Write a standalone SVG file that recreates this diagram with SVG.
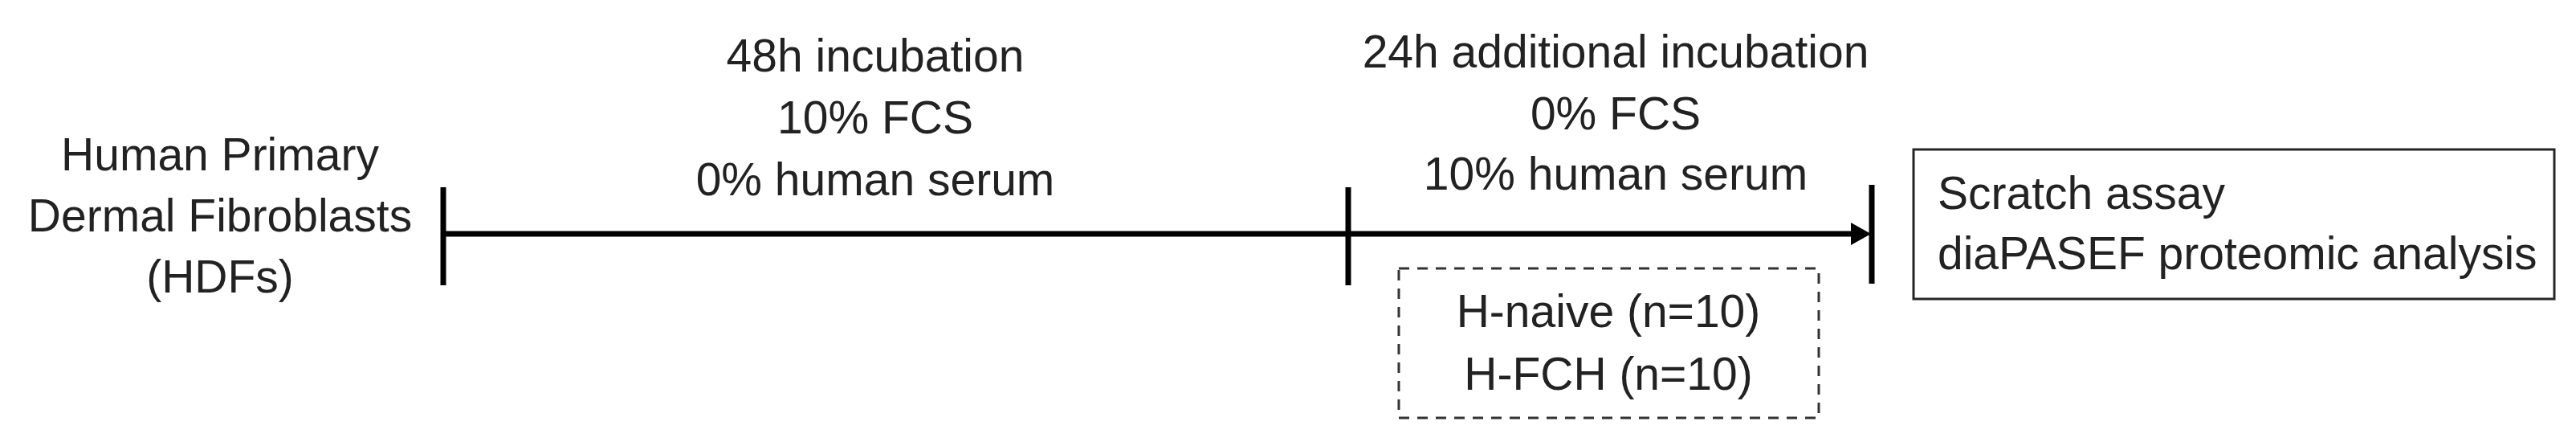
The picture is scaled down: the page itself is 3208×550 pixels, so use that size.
<svg xmlns="http://www.w3.org/2000/svg" width="3208" height="550" viewBox="0 0 3208 550">
<style>
  text { font-family: "Liberation Sans", Arial, sans-serif; font-size: 57px; fill: #222222; }
  .c { text-anchor: middle; }
  .ln { stroke: #000000; stroke-width: 7; fill: none; }
  .box { fill: #ffffff; stroke: #262626; stroke-width: 3; }
  .dash { fill: none; stroke: #333333; stroke-width: 3; stroke-dasharray: 13 10; }
</style>
<rect x="0" y="0" width="3208" height="550" fill="#ffffff"/>

<g id="connectors">
  <line class="ln" x1="552" y1="291" x2="2310" y2="291"/>
  <polygon points="2305,277 2330,291 2305,305" fill="#000000"/>
  <line class="ln" x1="552" y1="233" x2="552" y2="355"/>
  <line class="ln" x1="1679" y1="233" x2="1679" y2="355"/>
  <line class="ln" x1="2331" y1="230" x2="2331" y2="353"/>
</g>

<g id="node-hdfs">
  <text class="c" x="274" y="212">Human Primary</text>
  <text class="c" x="274" y="288">Dermal Fibroblasts</text>
  <text class="c" x="274" y="364">(HDFs)</text>
</g>

<g id="label-48h">
  <text class="c" x="1090" y="89">48h incubation</text>
  <text class="c" x="1090" y="166">10% FCS</text>
  <text class="c" x="1090" y="243">0% human serum</text>
</g>

<g id="label-24h">
  <text class="c" x="2012" y="84">24h additional incubation</text>
  <text class="c" x="2012" y="161">0% FCS</text>
  <text class="c" x="2012" y="236">10% human serum</text>
</g>

<g id="node-groups">
  <rect class="dash" x="1742" y="334" width="523" height="186"/>
  <text class="c" x="2003" y="407">H-naive (n=10)</text>
  <text class="c" x="2003" y="485">H-FCH (n=10)</text>
</g>

<g id="node-assays">
  <rect class="box" x="2383" y="186" width="798" height="186"/>
  <text x="2413" y="260">Scratch assay</text>
  <text x="2413" y="335">diaPASEF proteomic analysis</text>
</g>
</svg>
